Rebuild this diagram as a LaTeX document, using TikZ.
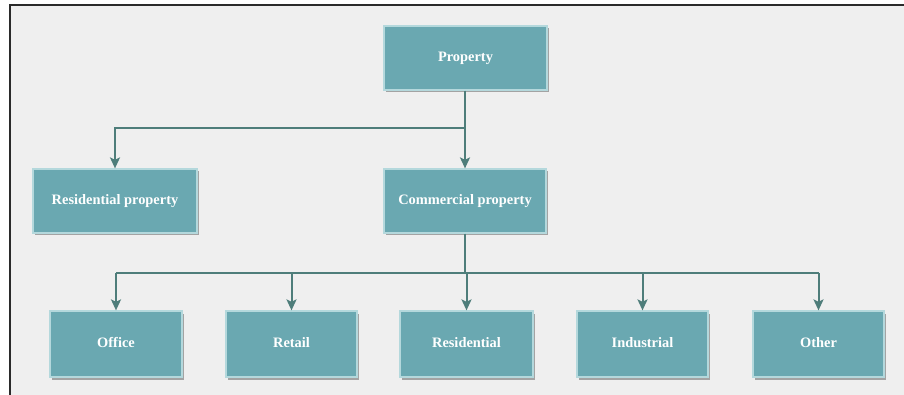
\documentclass[tikz,border=0pt]{standalone}
\usepackage{fontspec}
\setmainfont{Liberation Serif}
\usetikzlibrary{arrows.meta,shadows}
\definecolor{boxfill}{HTML}{6AA8B1}
\definecolor{boxedge}{HTML}{B4D8DC}
\definecolor{linecol}{HTML}{4E7D7A}
\definecolor{bg}{HTML}{EFEFEF}
\definecolor{framecol}{HTML}{2A2A2A}
\tikzset{
  pbox/.style={draw=boxedge, line width=1.2pt, fill=boxfill, minimum height=64pt,
    text=white, font=\bfseries\fontsize{14.4}{16}\selectfont, inner sep=0pt,
    text height=10pt, text depth=3pt,
    drop shadow={shadow xshift=1.5pt, shadow yshift=-2.5pt, opacity=0.5, fill=black!65}},
  conn/.style={draw=linecol, line width=2pt},
  arr/.style={conn, -{Stealth[width=10pt,length=11pt,inset=2.5pt]}}
}
\begin{document}
\begin{tikzpicture}[x=1pt,y=-1pt]
\useasboundingbox (0,0) rectangle (904,395);
\fill[white] (0,0) rectangle (904,395);
\fill[bg] (10,5) rectangle (904,395);
\draw[framecol, line width=2.2pt] (10,395) -- (10,5) -- (904,5);
% nodes
\node[pbox, minimum width=163pt] (prop) at (465.5,58) {Property};
\node[pbox, minimum width=164pt] (res) at (115,201) {Residential property};
\node[pbox, minimum width=162pt] (com) at (465,201) {Commercial property};
\node[pbox, minimum width=132pt, minimum height=66pt] (off) at (116,344) {Office};
\node[pbox, minimum width=131pt, minimum height=66pt] (ret) at (291.5,344) {Retail};
\node[pbox, minimum width=133pt, minimum height=66pt] (resi) at (466.5,344) {Residential};
\node[pbox, minimum width=131pt, minimum height=66pt] (ind) at (642.5,344) {Industrial};
\node[pbox, minimum width=131pt, minimum height=66pt] (oth) at (818.5,344) {Other};
% connectors
\coordinate (j1) at (465,128);
\coordinate (j2) at (465,273);
\draw[conn] (prop.south -| j1) -- (j1);
\draw[arr] (j1) -- (com.north -| j1);
\draw[arr] (j1) -| (res.north);
\draw[conn] (com.south -| j2) -- (j2);
\draw[conn] (j2 -| off.north) -- (j2 -| oth.north);
\draw[arr] (j2 -| off.north) -- (off.north);
\draw[arr] (j2 -| ret.north) -- (ret.north);
\draw[arr] (j2 -| resi.north) -- (resi.north);
\draw[arr] (j2 -| ind.north) -- (ind.north);
\draw[arr] (j2 -| oth.north) -- (oth.north);
\end{tikzpicture}
\end{document}
